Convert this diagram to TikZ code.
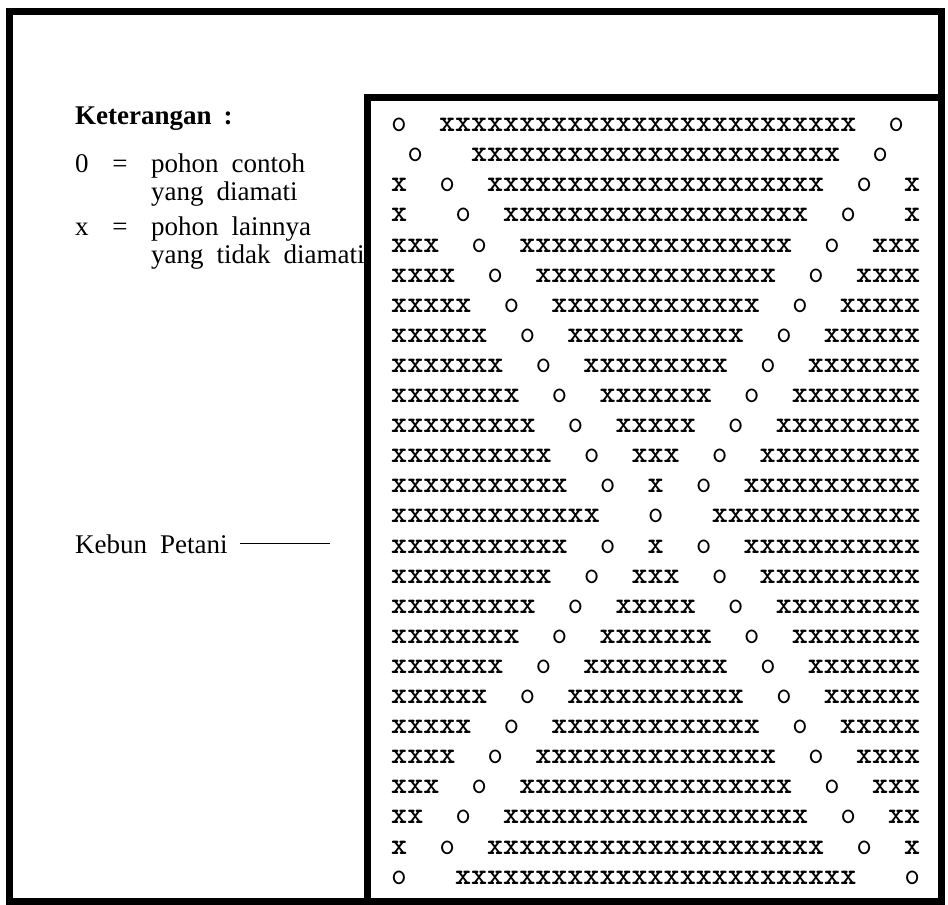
\documentclass[tikz,border=0pt]{standalone}
\usepackage{fontspec}
\setmainfont{Liberation Serif}
\ExplSyntaxOn
\cs_new:Npn \xr #1 { \prg_replicate:nn {#1} {x} }
\ExplSyntaxOff
\newcommand\oo{{\mdseries o}}
\begin{document}
\begin{tikzpicture}[x=1pt,y=-1pt,
  legend/.style={font={\fontsize{27}{30}\selectfont\spaceskip=13pt\relax}, inner sep=0pt, anchor=base west},
  heading/.style={font={\bfseries\fontsize{27}{30}\selectfont\spaceskip=12pt\relax}, inner sep=0pt, anchor=base west},
  gridrow/.style={font={\ttfamily\bfseries\fontsize{30.57}{32}\selectfont}, inner sep=0pt, anchor=base west},
  frame/.style={line width=7pt, line join=miter}]
\useasboundingbox (0,0) rectangle (948,905);
\fill[white] (0,0) rectangle (948,905);

% legend
\node[heading] (ket) at (75,124) {Keterangan :};
\node[legend] (k0) at (75,172) {0};
\node[legend, anchor=base] (eq1) at (120,172) {=};
\node[legend] (d1) at (151,172) {pohon contoh};
\node[legend] (d1b) at (151,200) {yang diamati};
\node[legend] (kx) at (75,235) {x};
\node[legend, anchor=base] (eq2) at (120,235) {=};
\node[legend] (d2) at (151,235) {pohon lainnya};
\node[legend] (d2b) at (151,263) {yang tidak diamati};

% label
\node[legend] (kp) at (75,553) {Kebun Petani};
\coordinate (kpend) at (330,545);
\draw[line width=1.3pt] ([xshift=12pt]kp.east) -- (kp.east -| kpend);

% grid of trees
\foreach \i/\s in {
 1/{\oo~~\xr{26}~~\oo},
 2/{~\oo~~~\xr{23}~~\oo},
 3/{x~~\oo~~\xr{21}~~\oo~~x},
 4/{x~~~\oo~~\xr{19}~~\oo~~~x},
 5/{\xr{3}~~\oo~~\xr{17}~~\oo~~\xr{3}},
 6/{\xr{4}~~\oo~~\xr{15}~~\oo~~\xr{4}},
 7/{\xr{5}~~\oo~~\xr{13}~~\oo~~\xr{5}},
 8/{\xr{6}~~\oo~~\xr{11}~~\oo~~\xr{6}},
 9/{\xr{7}~~\oo~~\xr{9}~~\oo~~\xr{7}},
 10/{\xr{8}~~\oo~~\xr{7}~~\oo~~\xr{8}},
 11/{\xr{9}~~\oo~~\xr{5}~~\oo~~\xr{9}},
 12/{\xr{10}~~\oo~~\xr{3}~~\oo~~\xr{10}},
 13/{\xr{11}~~\oo~~x~~\oo~~\xr{11}},
 14/{\xr{13}~~~\oo~~~\xr{13}},
 15/{\xr{11}~~\oo~~x~~\oo~~\xr{11}},
 16/{\xr{10}~~\oo~~\xr{3}~~\oo~~\xr{10}},
 17/{\xr{9}~~\oo~~\xr{5}~~\oo~~\xr{9}},
 18/{\xr{8}~~\oo~~\xr{7}~~\oo~~\xr{8}},
 19/{\xr{7}~~\oo~~\xr{9}~~\oo~~\xr{7}},
 20/{\xr{6}~~\oo~~\xr{11}~~\oo~~\xr{6}},
 21/{\xr{5}~~\oo~~\xr{13}~~\oo~~\xr{5}},
 22/{\xr{4}~~\oo~~\xr{15}~~\oo~~\xr{4}},
 23/{\xr{3}~~\oo~~\xr{17}~~\oo~~\xr{3}},
 24/{\xr{2}~~\oo~~\xr{19}~~\oo~~\xr{2}},
 25/{x~~\oo~~\xr{21}~~\oo~~x},
 26/{\oo~~~\xr{25}~~~\oo}}{
  \node[gridrow] (r\i) at (391,{131.6+30.1*(\i-1)}) {\s};
}

% frames
\draw[frame] (9,11) rectangle (941,901);
\draw[frame] (367,97) rectangle (941,901);
\end{tikzpicture}
\end{document}
